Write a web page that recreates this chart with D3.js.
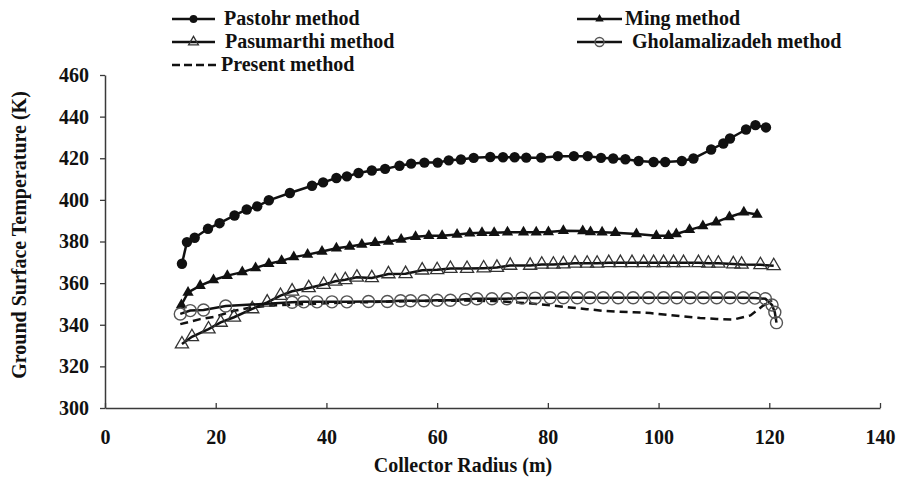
<!DOCTYPE html>
<html>
<head>
<meta charset="utf-8">
<script src="https://cdn.jsdelivr.net/npm/d3@7"></script>
<style>
  body { margin: 0; background: #fff; }
  text { font-family: "Liberation Serif", "Times New Roman", serif; font-weight: bold; }
</style>
</head>
<body>
<div id="chart"></div>
<script>
// data
const pastohrR = [13.9,14.8,16.2,18.6,20.7,23.4,25.6,27.5,29.6,33.4,37.4,39.4,41.8,43.7,45.8,48.2,50.6,53.2,55.3,57.7,60.1,62.1,64.3,66.6,69.6,71.9,74.0,76.1,78.8,81.8,84.7,87.2,89.6,91.8,94.0,96.4,99.1,101.2,104.2,106.3,109.5,111.7,112.9,115.8,117.5,119.4];
const pastohrT = [369.3,379.7,381.8,386.1,388.8,392.5,395.4,396.9,399.8,403.3,406.8,408.4,410.5,411.3,412.9,414.1,414.9,416.4,417.4,417.9,417.9,419.0,419.4,420.2,420.6,420.5,420.5,420.3,420.3,421.0,421.0,421.0,420.2,419.9,419.5,418.7,418.2,418.2,418.7,419.9,424.2,427.1,429.5,433.8,435.9,434.8];

const mingR = [13.8,15.0,17.2,19.6,22.1,24.8,27.2,29.6,31.9,34.1,36.6,39.2,41.8,44.2,46.4,48.8,51.2,53.5,56.1,58.5,60.9,63.6,65.9,68.1,70.3,72.7,75.6,77.9,80.1,82.8,86.3,87.7,89.8,92.2,96.0,99.6,101.8,103.2,105.6,108.0,110.4,112.8,115.4,117.8];
const mingT = [349.5,355.5,358.8,361.5,363.6,365.3,367.3,369.3,370.7,372.5,373.7,375.2,376.8,377.6,378.6,379.4,380.0,381.0,382.3,382.8,382.8,383.4,384.0,384.2,384.2,384.5,384.5,384.5,384.6,385.2,385.0,384.6,384.5,384.2,383.6,382.8,382.8,383.6,385.6,387.4,389.3,391.8,394.0,393.0];

const pasumarthiR = [13.9,15.7,18.7,20.9,23.3,26.6,29.3,31.7,33.8,36.8,39.5,41.6,43.4,45.5,48.2,51.2,54.3,57.3,60.0,62.4,65.4,68.4,70.8,73.2,76.8,78.9,81.0,82.8,84.9,87.1,88.9,91.0,93.1,95.2,97.3,99.1,100.9,102.7,104.5,107.2,109.0,110.8,113.5,115.0,118.4,120.8];
const pasumarthiT = [330.7,334.2,337.9,341.1,343.6,347.6,350.8,354.0,356.1,357.7,359.3,360.9,361.6,362.8,362.5,364.4,364.5,366.2,366.4,367.0,367.0,367.2,367.5,368.5,368.5,369.0,369.0,369.2,369.5,369.5,369.5,369.8,369.8,369.8,369.8,369.8,369.8,369.8,369.8,369.8,369.5,369.5,369.2,369.0,368.8,368.3];

const gholamR = [13.6,15.4,17.8,21.8,33.8,35.9,38.3,41.0,43.7,47.6,51.0,53.4,55.2,57.6,60.0,62.4,65.1,67.2,69.9,72.6,75.3,77.7,80.4,82.8,85.3,87.6,90.0,92.7,95.4,98.2,100.9,103.3,105.7,108.1,110.5,112.9,115.3,117.4,119.3,120.5,121.0,121.3];
const gholamT = [345.2,346.8,347.1,349.0,350.8,351.0,351.0,351.0,351.0,351.2,351.2,351.5,351.5,351.5,351.8,351.8,352.2,352.5,352.5,352.5,352.8,352.8,353.0,353.0,353.0,353.0,353.0,353.0,353.0,353.0,353.0,353.0,353.0,353.0,353.0,353.0,353.0,352.8,352.5,349.5,346.0,341.0];

const presentR = [13.6,17.2,19.9,23.3,26.3,30,35,40,45,50,55,60,65,70,74,78,81,84,87,90,93,95.5,98.5,101.5,104.5,107.5,110.5,113.5,116.6,118.9,120.5];
const presentT = [340.3,342.7,343.9,346.7,348.3,349.2,349.8,350.3,350.7,351.0,351.3,351.5,351.6,351.4,350.8,350.0,349.2,348.3,347.5,346.7,346.3,346.0,345.6,344.8,344.0,343.3,342.8,342.5,344.5,349.2,351.8];

const xTicks = [0,20,40,60,80,100,120,140];
const yTicks = [300,320,340,360,380,400,420,440,460];
const seriesNames = ["Pastohr method","Ming method","Pasumarthi method","Gholamalizadeh method","Present method"];

const width = 907, height = 479;
const margin = { top: 75, right: 27, bottom: 71, left: 105 };

let svg = d3.select("#chart").append("svg").attr("width", width).attr("height", height);

let x = d3.scaleLinear().domain([0, 140]).range([margin.left, width - margin.right]);
let y = d3.scaleLinear().domain([300, 460]).range([height - margin.bottom, margin.top]);

// axes
let yAxis = svg.append("g")
  .attr("transform", "translate(" + margin.left + ",0)")
  .call(d3.axisLeft(y).tickValues(yTicks).tickSizeInner(5).tickSizeOuter(0).tickPadding(11));
let xAxis = svg.append("g")
  .attr("transform", "translate(0," + (height - margin.bottom) + ")")
  .call(d3.axisBottom(x).tickValues(xTicks).tickSizeInner(-5).tickSizeOuter(0).tickPadding(22));
[xAxis, yAxis].forEach((a) => {
  a.select(".domain").attr("stroke", "#3a3a3a").attr("stroke-width", 1.5);
  a.selectAll(".tick line").attr("stroke", "#3a3a3a").attr("stroke-width", 1.3);
  a.selectAll("text").attr("font-size", 20).attr("fill", "#111")
    .style("font-family", '"Liberation Serif", serif').style("font-weight", "bold");
});

// axis titles
svg.append("text")
  .attr("x", 463).attr("y", 472)
  .attr("text-anchor", "middle").attr("font-size", 20).attr("fill", "#111")
  .text("Collector Radius (m)");
svg.append("text")
  .attr("transform", "translate(26,235) rotate(-90)")
  .attr("text-anchor", "middle").attr("font-size", 20).attr("fill", "#111")
  .text("Ground Surface Temperature (K)");

let line = d3.line().x((d) => x(d[0])).y((d) => y(d[1]));
function pairs(r, t) { return r.map((v, i) => [v, t[i]]); }

let plot = svg.append("g");

// present method: dashed, no markers
plot.append("path")
  .datum(pairs(presentR, presentT))
  .attr("d", line).attr("fill", "none")
  .attr("stroke", "#111").attr("stroke-width", 2.5).attr("stroke-dasharray", "8,5");

function drawSeries(r, t, marker) {
  let data = pairs(r, t);
  plot.append("path").datum(data).attr("d", line)
    .attr("fill", "none").attr("stroke", "#111").attr("stroke-width", 2.5);
  data.forEach((d) => {
    let g = plot.append("g").attr("transform", "translate(" + x(d[0]) + "," + y(d[1]) + ")");
    marker(g, 1);
  });
}

function filledCircle(g, k) { g.append("circle").attr("r", 5.2 * k).attr("fill", "#111"); }
function filledTri(g, k) {
  g.append("path").attr("d", d3.symbol(d3.symbolTriangle, 55 * k * k)()).attr("fill", "#111");
}
function openTri(g, k) {
  g.append("path").attr("d", d3.symbol(d3.symbolTriangle, 75 * k * k)())
    .attr("fill", "none").attr("stroke", "#333").attr("stroke-width", 1.3);
}
function openCircle(g, k) {
  g.append("circle").attr("r", 6 * k).attr("fill", "none").attr("stroke", "#555").attr("stroke-width", 1.4);
}

drawSeries(pastohrR, pastohrT, filledCircle);
drawSeries(mingR, mingT, filledTri);
drawSeries(pasumarthiR, pasumarthiT, openTri);
drawSeries(gholamR, gholamT, openCircle);

// legend
let legendItems = [
  { name: seriesNames[0], x0: 172, x1: 215, y: 19, tx: 224, m: filledCircle },
  { name: seriesNames[1], x0: 577, x1: 622, y: 19, tx: 625, m: filledTri },
  { name: seriesNames[2], x0: 172, x1: 215, y: 42, tx: 225, m: openTri },
  { name: seriesNames[3], x0: 577, x1: 622, y: 42, tx: 632, m: openCircle },
  { name: seriesNames[4], x0: 172, x1: 218, y: 65, tx: 221, m: null }
];
legendItems.forEach((it) => {
  let ln = svg.append("line")
    .attr("x1", it.x0).attr("x2", it.x1).attr("y1", it.y).attr("y2", it.y)
    .attr("stroke", "#111").attr("stroke-width", 2.5);
  if (it.m) {
    let g = svg.append("g").attr("transform", "translate(" + ((it.x0 + it.x1) / 2) + "," + it.y + ")");
    it.m(g, 0.75);
  } else {
    ln.attr("stroke-dasharray", "8,4");
  }
  svg.append("text")
    .attr("x", it.tx).attr("y", it.y + 6)
    .attr("font-size", 20).attr("fill", "#111")
    .text(it.name);
});
</script>
</body>
</html>
